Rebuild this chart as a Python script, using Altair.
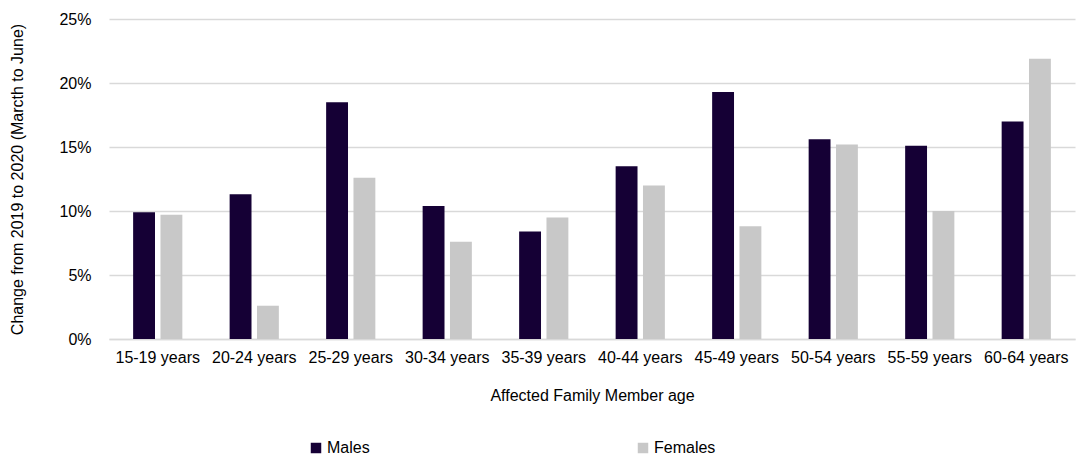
import altair as alt
import pandas as pd

age_groups = ["15-19 years", "20-24 years", "25-29 years", "30-34 years", "35-39 years",
              "40-44 years", "45-49 years", "50-54 years", "55-59 years", "60-64 years"]
males = [9.9, 11.3, 18.5, 10.4, 8.4, 13.5, 19.3, 15.6, 15.1, 17.0]
females = [9.7, 2.6, 12.6, 7.6, 9.5, 12.0, 8.8, 15.2, 10.0, 21.9]
series = ["Males", "Females"]
colors = ["#150035", "#c8c8c8"]

rows = []
for i, a in enumerate(age_groups):
    rows.append({"age": a, "sex": "Males", "value": males[i] / 100})
    rows.append({"age": a, "sex": "Females", "value": females[i] / 100})
df = pd.DataFrame(rows)

FONT = "Liberation Sans, Arial"

chart = alt.Chart(df).mark_bar().encode(
    x=alt.X("age:N", sort=age_groups,
            scale=alt.Scale(paddingInner=0.49, paddingOuter=0.25),
            axis=alt.Axis(title="Affected Family Member age", labelAngle=0, ticks=False,
                          domainColor="#d9d9d9", domainWidth=1.5, labelPadding=10,
                          titlePadding=22)),
    xOffset=alt.XOffset("sex:N", sort=series, scale=alt.Scale(paddingInner=0.2)),
    y=alt.Y("value:Q", scale=alt.Scale(domain=[0, 0.25], nice=False),
            axis=alt.Axis(title="Change from 2019 to 2020 (Marcth to June)", format=".0%",
                          values=[0, 0.05, 0.1, 0.15, 0.2, 0.25], domain=False, ticks=False,
                          gridColor="#d9d9d9", gridWidth=1.5, labelPadding=18,
                          titlePadding=33)),
    color=alt.Color("sex:N", sort=series,
                    scale=alt.Scale(domain=series, range=colors),
                    legend=alt.Legend(title=None, orient="none", direction="horizontal",
                                      legendX=199, legendY=421, symbolType="square",
                                      symbolSize=110, symbolStrokeWidth=0, labelOffset=3,
                                      columnPadding=265, padding=0)),
).properties(
    width=966, height=320,
    padding={"left": 109, "top": 19, "right": 8, "bottom": 118},
    autosize=alt.AutoSizeParams(type="none"),
).configure_view(stroke=None).configure_axis(
    labelFont=FONT, titleFont=FONT, labelFontSize=16, titleFontSize=16,
    labelColor="#000000", titleColor="#000000", titleFontWeight="normal",
).configure_legend(labelFont=FONT, labelFontSize=16, labelColor="#000000")

chart.save("out.html", embed_options={"renderer": "svg", "actions": False})
